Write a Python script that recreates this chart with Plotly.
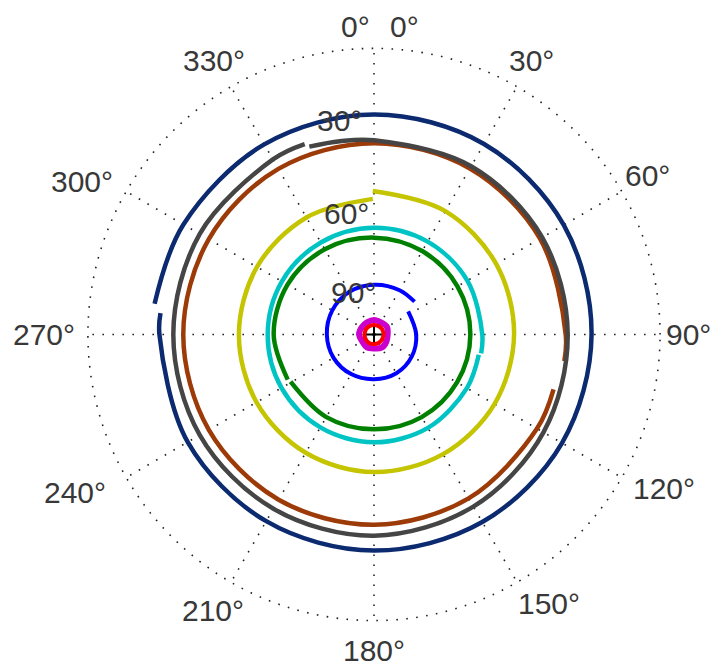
import plotly.graph_objects as go

# ---- data: azimuth (deg, clockwise from north) and zenith distance (deg = 90 - elevation)
navy_az = [275.7, 270, 240, 210, 180, 150, 120, 90, 60, 30, 0, -30, -60, -82]
navy_r = [67.5, 67.5, 67.66, 67.81, 67.97, 68.13, 68.28, 68.44, 68.91, 69.22, 69.22, 69.06, 69.22, 69.69]

gray_az = [340, 330, 300, 270, 240, 210, 180, 150, 120, 90, 60, 30, 0, -10, -19]
gray_r = [63.75, 63.6, 63.28, 63.13, 63.28, 63.28, 63.28, 62.5, 61.56, 60.94, 61.09, 61.09, 61.09, 61.72, 62.5]

brown_az = [107, 120, 150, 180, 210, 240, 270, 300, 330, 360, 390, 420, 450, 458]
brown_r = [59.06, 59.22, 59.53, 59.84, 60.0, 60.0, 60.0, 60.0, 60.16, 60.16, 60.31, 60.31, 60.31, 60.47]

yellow_az = [-0.5, 30, 60, 90, 120, 150, 180, 210, 240, 270, 300, 330, 359.5]
yellow_r = [45.16, 44.84, 44.38, 44.06, 43.75, 43.44, 43.28, 42.97, 42.66, 42.5, 42.5, 42.5, 42.66]

cyan_az = [101, 120, 150, 180, 210, 240, 270, 300, 330, 360, 390, 420, 450, 460]
cyan_r = [33.59, 33.75, 33.91, 33.91, 33.75, 33.59, 33.44, 33.44, 33.44, 33.59, 33.75, 33.91, 34.06, 34.22]

green_az = [242.4, 270, 300, 330, 360, 390, 420, 450, 480, 510, 540, 570, 600.5]
green_r = [30.63, 31.56, 31.41, 30.94, 30.47, 30.31, 30.31, 30.31, 30.16, 30.0, 29.84, 30.0, 30.16]

blue_az = [56, 90, 120, 150, 180, 210, 240, 270, 300, 330, 360, 390, 411]
blue_r = [12.97, 13.28, 13.75, 14.06, 14.06, 14.38, 14.69, 14.84, 15.16, 15.47, 15.63, 16.09, 16.41]

magenta_az = [0, 30, 60, 90, 120, 150, 180, 210, 240, 270, 300, 330, 360]
magenta_r = [4.6, 4.4, 4.7, 4.3, 4.5, 4.8, 4.4, 4.6, 4.3, 4.7, 4.5, 4.4, 4.6]

red_az = [0, 30, 60, 90, 120, 150, 180, 210, 240, 270, 300, 330, 360]
red_r = [3.0, 3.0, 3.05, 3.0, 2.95, 3.0, 3.0, 3.05, 3.0, 2.95, 3.0, 3.0, 3.0]

center_az = [0]
center_r = [0]

azimuth_ticks = [0, 30, 60, 90, 120, 150, 180, 210, 240, 270, 300, 330]
azimuth_labels = ["0°", "30°", "60°", "90°", "120°", "150°", "180°", "210°", "240°", "270°", "300°", "330°"]
elev_labels = ["0°", "30°", "60°", "90°"]

tracks = [
    (navy_az, navy_r, "#0b2a6f", 4.5),
    (brown_az, brown_r, "#9c3a08", 4.5),
    (gray_az, gray_r, "#454545", 4.5),
    (yellow_az, yellow_r, "#c4c400", 4.5),
    (cyan_az, cyan_r, "#00c4c4", 4.5),
    (green_az, green_r, "#008000", 4.5),
    (blue_az, blue_r, "#0000ff", 4.0),
    (magenta_az, magenta_r, "#cc00cc", 6.0),
    (red_az, red_r, "#ff0000", 4.0),
]

W, H = 713, 667
CX, CY, R = 374.0, 334.5, 288.0

fig = go.Figure()
for az, r, col, w in tracks:
    fig.add_trace(go.Scatterpolar(r=r, theta=az, mode="lines",
                                  line=dict(color=col, width=w, shape="spline"),
                                  hoverinfo="skip", showlegend=False))
fig.add_trace(go.Scatterpolar(r=center_r, theta=center_az, mode="markers",
                              marker=dict(symbol="cross-thin", size=11, color="black",
                                          line=dict(color="black", width=2)),
                              hoverinfo="skip", showlegend=False))

dot = "1.6px,8.4px"
fig.update_layout(
    width=W, height=H,
    margin=dict(l=0, r=0, t=0, b=0),
    paper_bgcolor="white",
    showlegend=False,
    polar=dict(
        domain=dict(x=[(CX - R) / W, (CX + R) / W], y=[1 - (CY + R) / H, 1 - (CY - R) / H]),
        bgcolor="white",
        angularaxis=dict(rotation=90, direction="clockwise", tickmode="array",
                         tickvals=azimuth_ticks, showticklabels=False, ticks="",
                         showline=False, showgrid=True, gridcolor="#222222",
                         gridwidth=1.6, griddash=dot),
        radialaxis=dict(range=[0, 90.6], tickmode="array", tickvals=[90],
                        showticklabels=False, ticks="", showline=False,
                        showgrid=True, gridcolor="#222222", gridwidth=1.6, griddash=dot),
    ),
)

# tick label positions (pixel centres)
az_label_px = [(355, 26), (531, 60), (647, 175), (688, 334), (664, 488), (549, 603),
               (374, 650), (213, 610), (75, 492), (44, 334), (82, 182), (214, 60)]
el_label_px = [(404, 26), (339, 120), (346, 213), (353, 292)]

font = dict(family="Liberation Sans, Arial, sans-serif", size=30, color="#383838")
ann = []
for (px, py), t in zip(az_label_px, azimuth_labels):
    ann.append(dict(x=px / W, y=1 - py / H, xref="paper", yref="paper", text=t,
                    showarrow=False, xanchor="center", yanchor="middle", font=font))
for (px, py), t in zip(el_label_px, elev_labels):
    ann.append(dict(x=px / W, y=1 - py / H, xref="paper", yref="paper", text=t,
                    showarrow=False, xanchor="center", yanchor="middle", font=font))
fig.update_layout(annotations=ann)

fig.write_html("out.html",
               config={"displayModeBar": False, "staticPlot": True},
               post_script="document.body.style.margin='0px';document.body.style.overflow='hidden';")
